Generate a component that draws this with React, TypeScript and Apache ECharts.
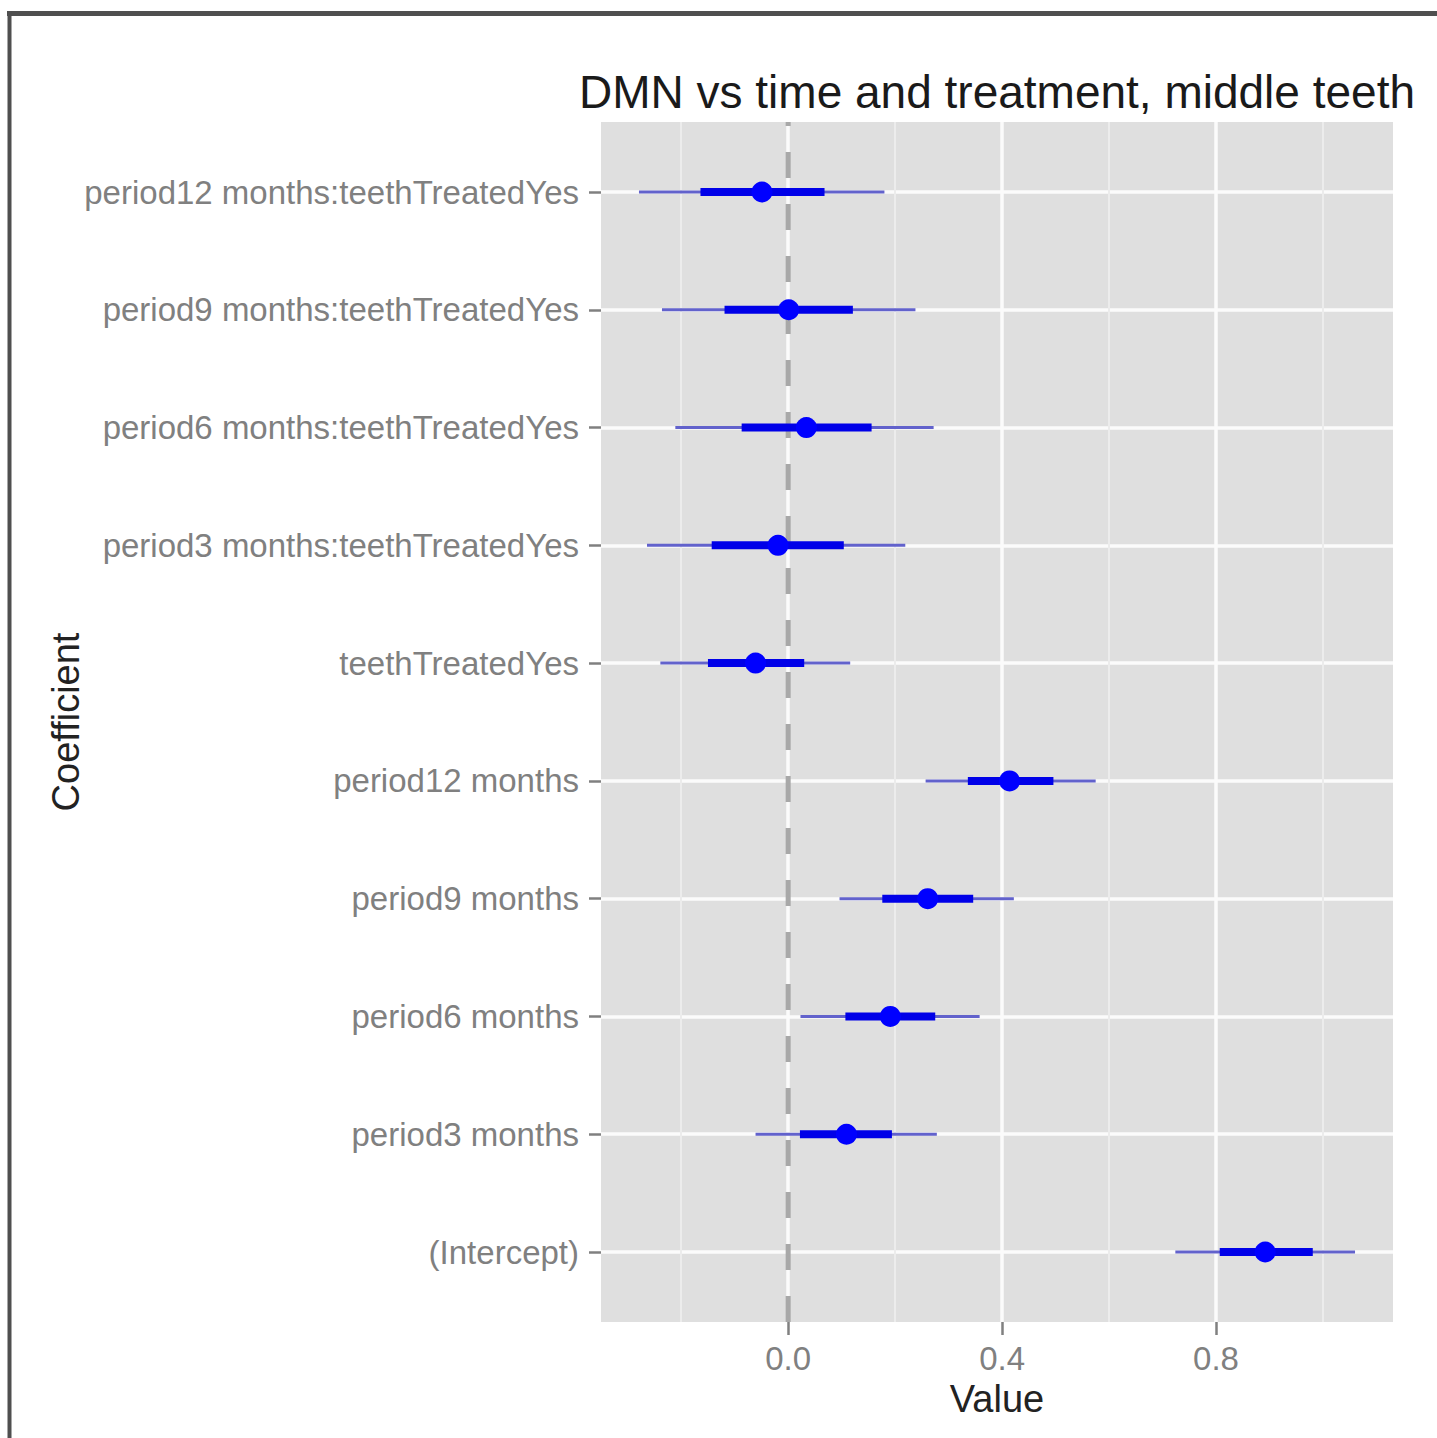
import React, { useEffect, useRef } from "react";
import * as echarts from "echarts";

// Categories, top to bottom
const categories = [
  "period12 months:teethTreatedYes",
  "period9 months:teethTreatedYes",
  "period6 months:teethTreatedYes",
  "period3 months:teethTreatedYes",
  "teethTreatedYes",
  "period12 months",
  "period9 months",
  "period6 months",
  "period3 months",
  "(Intercept)",
];

// Point estimates
const estimates = [-0.049, 0.001, 0.034, -0.019, -0.061, 0.414, 0.261, 0.191, 0.109, 0.892];
// Outer (thin) interval
const outerLow = [-0.279, -0.236, -0.211, -0.264, -0.239, 0.257, 0.096, 0.023, -0.061, 0.724];
const outerHigh = [0.18, 0.238, 0.272, 0.219, 0.116, 0.575, 0.422, 0.358, 0.278, 1.06];
// Inner (thick) interval
const innerLow = [-0.164, -0.119, -0.087, -0.143, -0.15, 0.336, 0.176, 0.107, 0.022, 0.807];
const innerHigh = [0.068, 0.121, 0.156, 0.104, 0.03, 0.496, 0.346, 0.275, 0.194, 0.981];

const xTicks = [0, 0.4, 0.8];
const xMinorTicks = [-0.2, 0.2, 0.6, 1.0];
const xMin = -0.35;
const xMax = 1.131;
const referenceValue = 0;

const FONT = "Liberation Sans";

export default function App() {
  const ref = useRef<HTMLDivElement>(null);

  useEffect(() => {
    if (!ref.current) return;
    const chart = echarts.init(ref.current, undefined, { renderer: "svg" });

    const rows = categories.map((c, i) => [
      i,
      estimates[i],
      outerLow[i],
      outerHigh[i],
      innerLow[i],
      innerHigh[i],
    ]);

    const gridPos = { left: 601, right: 44 };

    chart.setOption({
      animation: false,
      backgroundColor: "#ffffff",
      title: {
        text: "DMN vs time and treatment, middle teeth",
        left: 992,
        top: 64,
        textAlign: "center",
        textStyle: {
          fontFamily: FONT,
          fontSize: 46,
          fontWeight: "normal",
          color: "#1a1a1a",
        },
      },
      graphic: [
        {
          type: "line",
          shape: { x1: 7, y1: 13.5, x2: 1437, y2: 13.5 },
          style: { stroke: "#4f4f4f", lineWidth: 5 },
          z: 100,
        },
        {
          type: "line",
          shape: { x1: 9.5, y1: 11, x2: 9.5, y2: 1438 },
          style: { stroke: "#4f4f4f", lineWidth: 4 },
          z: 100,
        },
      ],
      grid: [
        {
          ...gridPos,
          top: 122,
          bottom: 116,
          show: true,
          backgroundColor: "#dfdfdf",
          borderWidth: 0,
        },
        {
          ...gridPos,
          top: 192,
          bottom: 186,
          show: false,
        },
      ],
      xAxis: [
        {
          gridIndex: 0,
          type: "value",
          min: xMin,
          max: xMax,
          name: "Value",
          nameLocation: "middle",
          nameGap: 55,
          nameTextStyle: { fontFamily: FONT, fontSize: 38, color: "#222222" },
          axisLine: { show: false, onZero: false },
          axisTick: {
            show: true,
            length: 13,
            customValues: xTicks,
            lineStyle: { color: "#808080", width: 2.5 },
          },
          axisLabel: {
            customValues: xTicks,
            formatter: (v: number) => v.toFixed(1),
            fontFamily: FONT,
            fontSize: 33,
            color: "#808080",
            margin: 20,
          },
          splitLine: { show: true, lineStyle: { color: "#fbfbfb", width: 3.5 } },
        },
        {
          gridIndex: 0,
          type: "value",
          min: xMin,
          max: xMax,
          axisLine: { show: false, onZero: false },
          axisTick: { show: false, customValues: xMinorTicks },
          axisLabel: { show: false, customValues: xMinorTicks },
          splitLine: { show: true, lineStyle: { color: "#ececec", width: 2 } },
        },
        {
          gridIndex: 1,
          type: "value",
          min: xMin,
          max: xMax,
          show: false,
          axisLine: { onZero: false },
        },
      ],
      yAxis: [
        {
          gridIndex: 0,
          type: "value",
          min: 0,
          max: 1,
          show: false,
          axisLine: { onZero: false },
        },
        {
          gridIndex: 1,
          type: "category",
          data: categories,
          inverse: true,
          boundaryGap: false,
          name: "Coefficient",
          nameLocation: "middle",
          nameGap: 516,
          nameMoveOverlap: false,
          nameTextStyle: { fontFamily: FONT, fontSize: 38, color: "#222222" },
          axisLine: { show: false, onZero: false },
          axisTick: {
            show: true,
            length: 12,
            alignWithLabel: true,
            lineStyle: { color: "#808080", width: 2.5 },
          },
          axisLabel: {
            fontFamily: FONT,
            fontSize: 33,
            color: "#808080",
            margin: 22,
          },
          splitLine: { show: true, lineStyle: { color: "#fbfbfb", width: 3.5 } },
        },
      ],
      series: [
        {
          type: "line",
          xAxisIndex: 0,
          yAxisIndex: 0,
          data: [
            [referenceValue, 0],
            [referenceValue, 1],
          ],
          symbol: "none",
          silent: true,
          z: 2,
          lineStyle: { color: "#a8a8a8", width: 5, type: [26, 26] },
        },
        {
          type: "custom",
          xAxisIndex: 2,
          yAxisIndex: 1,
          z: 5,
          encode: { x: [1, 2, 3, 4, 5], y: 0 },
          data: rows,
          renderItem: (params: any, api: any) => {
            const yi = api.value(0);
            const p = api.coord([api.value(1), yi]);
            const oL = api.coord([api.value(2), yi]);
            const oH = api.coord([api.value(3), yi]);
            const iL = api.coord([api.value(4), yi]);
            const iH = api.coord([api.value(5), yi]);
            return {
              type: "group",
              children: [
                {
                  type: "line",
                  shape: { x1: oL[0], y1: oL[1], x2: oH[0], y2: oH[1] },
                  style: { stroke: "#6262cc", lineWidth: 3 },
                },
                {
                  type: "line",
                  shape: { x1: iL[0], y1: iL[1], x2: iH[0], y2: iH[1] },
                  style: { stroke: "#0000e8", lineWidth: 8 },
                },
                {
                  type: "circle",
                  shape: { cx: p[0], cy: p[1], r: 10.5 },
                  style: { fill: "#0000ff" },
                },
              ],
            };
          },
        },
      ],
    });

    return () => chart.dispose();
  }, []);

  return (
    <div
      ref={ref}
      style={{ position: "fixed", left: 0, top: 0, width: 1437, height: 1438 }}
    />
  );
}
